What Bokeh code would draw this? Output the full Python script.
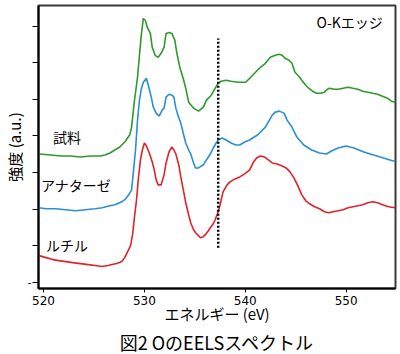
from bokeh.plotting import figure
from bokeh.models import Range1d, FixedTicker, CustomJSTickFormatter, Label, Title
from bokeh.embed import file_html
from bokeh.resources import INLINE

# ---- data (energy loss in eV, intensity in a.u.) ----
sample_ev = [519.56, 520.73, 521.71, 522.68, 523.66, 524.63, 525.61, 526.10, 526.59, 527.07,
             527.56, 528.05, 528.54, 528.73, 529.02, 529.32, 529.51, 529.71, 529.90, 530.10,
             530.29, 530.59, 530.78, 531.07, 531.37, 531.66, 531.95, 532.15, 532.44, 532.73,
             533.02, 533.22, 533.51, 533.90, 534.10, 534.39, 534.88, 535.37, 535.85, 536.15,
             536.63, 537.02, 537.32, 537.61, 538.10, 538.59, 539.27, 540.05, 540.54, 541.02,
             541.51, 542.00, 542.49, 542.98, 543.37, 543.66, 543.95, 544.34, 544.63, 544.93,
             545.32, 545.61, 546.00, 546.29, 546.68, 547.07, 547.46, 547.85, 548.15, 548.34,
             548.83, 549.22, 549.71, 550.20, 550.68, 551.17, 551.66, 552.15, 552.63, 553.12,
             553.61, 554.10, 554.49, 554.88]
sample_int = [135, 134, 133, 133, 132, 133, 133, 134, 136, 139,
              142, 147, 154, 162, 189, 212, 234, 256, 271, 269,
              262, 256, 242, 234, 232, 236, 242, 256, 257, 256,
              249, 236, 222, 209, 201, 187, 181, 178, 182, 189,
              194, 201, 206, 208, 209, 208, 207, 207, 212, 217,
              222, 226, 232, 234, 235, 234, 231, 229, 226, 217,
              213, 209, 204, 201, 198, 196, 196, 197, 200, 201,
              200, 200, 201, 202, 201, 200, 198, 197, 196, 195,
              193, 191, 188, 187]

anatase_ev = [519.56, 520.24, 521.22, 522.20, 523.17, 524.15, 525.12, 525.80, 526.59, 527.07,
              527.76, 528.15, 528.44, 528.73, 528.93, 529.12, 529.32, 529.51, 529.71, 529.90,
              530.20, 530.39, 530.68, 530.88, 531.17, 531.46, 531.76, 531.95, 532.15, 532.44,
              532.73, 532.93, 533.12, 533.32, 533.61, 533.90, 534.10, 534.39, 534.59, 534.88,
              535.07, 535.37, 535.66, 535.85, 536.15, 536.54, 536.83, 537.12, 537.32, 537.71,
              538.10, 538.59, 539.07, 539.46, 539.95, 540.44, 540.73, 541.22, 542.00, 542.68,
              542.98, 543.37, 543.85, 544.15, 544.63, 545.12, 545.80, 546.59, 547.37, 548.05,
              548.54, 549.22, 550.00, 550.78, 551.76, 552.73, 553.71, 554.68, 554.88]
anatase_int = [81, 80, 80, 79, 78, 79, 80, 81, 83, 84,
               87, 90, 94, 99, 119, 139, 169, 189, 201, 207,
               211, 204, 192, 182, 176, 173, 179, 181, 192, 195,
               194, 192, 181, 174, 166, 154, 146, 139, 135, 126,
               121, 121, 123, 124, 129, 135, 141, 146, 149, 151,
               149, 146, 144, 144, 147, 149, 151, 154, 162, 174,
               177, 178, 176, 169, 162, 152, 144, 139, 136, 135,
               138, 141, 143, 141, 137, 134, 131, 128, 128]

rutile_ev = [519.56, 520.24, 520.93, 521.51, 522.20, 522.88, 523.66, 524.44, 525.12, 525.80,
             526.39, 526.78, 527.27, 527.76, 528.05, 528.34, 528.63, 528.83, 529.02, 529.22,
             529.41, 529.61, 529.80, 530.00, 530.20, 530.49, 530.78, 530.98, 531.17, 531.37,
             531.66, 531.95, 532.15, 532.44, 532.73, 532.93, 533.12, 533.41, 533.61, 533.90,
             534.10, 534.39, 534.59, 534.88, 535.07, 535.37, 535.56, 535.85, 536.05, 536.34,
             536.54, 536.83, 537.02, 537.32, 537.51, 537.80, 538.20, 538.49, 538.98, 539.46,
             539.95, 540.44, 540.83, 541.12, 541.51, 541.90, 542.29, 542.68, 543.17, 543.66,
             544.05, 544.44, 544.83, 545.22, 545.61, 546.00, 546.39, 546.88, 547.37, 547.85,
             548.24, 548.73, 549.22, 549.71, 550.20, 550.68, 551.17, 551.66, 552.15, 552.63,
             553.12, 553.61, 554.20, 554.88]
rutile_int = [33, 31, 29, 28, 27, 26, 25, 24, 23, 22,
              23, 24, 25, 27, 31, 37, 43, 54, 72, 89,
              111, 129, 139, 146, 143, 136, 127, 119, 109, 104,
              104, 114, 126, 137, 142, 139, 135, 124, 112, 97,
              86, 74, 66, 59, 56, 53, 51, 52, 54, 58,
              61, 65, 69, 77, 84, 97, 104, 107, 110, 112,
              115, 119, 127, 131, 133, 132, 129, 126, 125, 123,
              121, 117, 111, 103, 94, 88, 85, 82, 80, 77,
              76, 77, 78, 79, 81, 82, 83, 84, 86, 87,
              86, 84, 82, 81]

series_names = ["試料", "アナターゼ", "ルチル"]
edge_label = "O-Kエッジ"
chart_title = "図2 OのEELSスペクトル"
edge_ev = 537.32
edge_span = [41, 251]
x_ticks = [520, 530, 540, 550]

JP = "Noto Sans CJK JP"

p = figure(width=400, height=354, output_backend="svg", toolbar_location=None,
           x_range=Range1d(519.5, 554.9), y_range=Range1d(0, 284),
           min_border_left=32, min_border_right=5, min_border_top=5, min_border_bottom=65)
p.background_fill_color = "white"
p.border_fill_color = "white"
p.outline_line_color = "#3a3a3a"
p.outline_line_width = 2
p.xgrid.visible = False
p.ygrid.visible = False

# x axis
p.xaxis.ticker = FixedTicker(ticks=x_ticks)
p.xaxis.minor_tick_line_color = None
p.xaxis.major_tick_out = 4
p.xaxis.major_tick_in = 0
p.xaxis.major_label_standoff = 3
p.xaxis.major_label_text_font = "DejaVu Sans"
p.xaxis.major_label_text_font_size = "12px"
p.xaxis.major_label_text_color = "black"
p.xaxis.axis_line_width = 2
p.xaxis.axis_line_color = "black"
p.xaxis.axis_label = "エネルギー (eV)"
p.xaxis.axis_label_text_font = JP
p.xaxis.axis_label_text_font_size = "15px"
p.xaxis.axis_label_text_font_style = "normal"
p.xaxis.axis_label_text_color = "black"
p.xaxis.axis_label_standoff = -5

# y axis
p.yaxis.ticker = FixedTicker(ticks=[6.3, 43.0, 79.7, 116.4, 153.1, 189.8, 226.5, 263.2])
p.yaxis.formatter = CustomJSTickFormatter(code="return tick < 20 ? '-' : '';")
p.yaxis.minor_tick_line_color = None
p.yaxis.major_tick_out = 6
p.yaxis.major_tick_in = 0
p.yaxis.major_label_standoff = 1
p.yaxis.major_label_text_font = "DejaVu Sans"
p.yaxis.major_label_text_font_size = "11px"
p.yaxis.major_label_text_color = "black"
p.yaxis.axis_line_width = 2
p.yaxis.axis_line_color = "black"
p.yaxis.axis_label = "強度 (a.u.)"
p.yaxis.axis_label_text_font = JP
p.yaxis.axis_label_text_font_size = "15px"
p.yaxis.axis_label_text_font_style = "normal"
p.yaxis.axis_label_text_color = "black"
p.yaxis.axis_label_standoff = 0

p.line(sample_ev, sample_int, line_color="#2e9a2e", line_width=1.6)
p.line(anatase_ev, anatase_int, line_color="#2a8fd4", line_width=1.6)
p.line(rutile_ev, rutile_int, line_color="#e0232b", line_width=1.6)

p.line([edge_ev, edge_ev], edge_span, line_color="black", line_width=2.5, line_dash="2 2")

lab_pos = [(520.93, 152), (519.76, 104), (520.24, 44)]
for name, (lx, ly) in zip(series_names, lab_pos):
    p.add_layout(Label(x=lx, y=ly, text=name, text_font=JP, text_font_size="14px",
                       text_baseline="middle", text_align="left", text_color="black"))
p.add_layout(Label(x=547.07, y=267, text=edge_label, text_font=JP, text_font_size="14px",
                   text_baseline="middle", text_align="left", text_color="black"))

# figure caption below the axis
p.add_layout(Title(text=chart_title, align="center", text_font=JP, text_font_size="18px",
                   text_font_style="normal", text_color="black", standoff=0), "below")

open("out.html", "w").write(file_html(p, INLINE))
